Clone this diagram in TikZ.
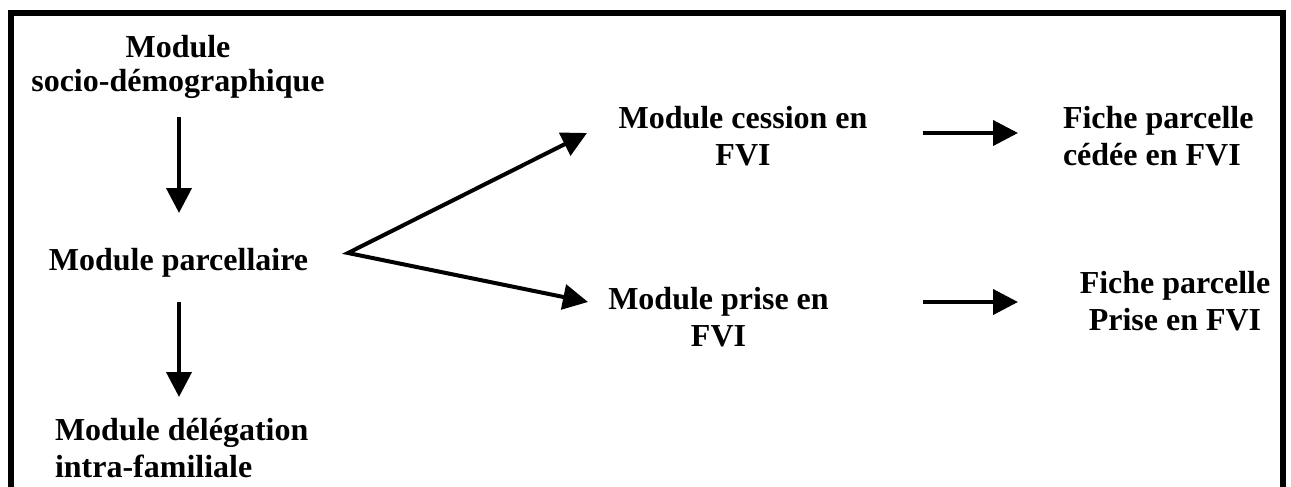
\documentclass[tikz,border=0pt]{standalone}
\usepackage{fontspec}
\setmainfont{Liberation Serif}
\usetikzlibrary{arrows.meta}
\tikzset{
  lbl/.style={inner sep=0pt, outer sep=0pt, font=\bfseries\fontsize{16}{18.5}\selectfont},
  arr/.style={line width=2pt, -{Triangle[length=12.5pt,width=12.5pt]}},
  frame/.style={line width=3pt, line join=miter}
}
\begin{document}
\begin{tikzpicture}[x=0.5pt,y=-0.5pt]
\useasboundingbox (0,0) rectangle (1291,487);
\draw[frame] (11,487) -- (11,13) -- (1283,13) -- (1283,487);

\node[lbl, align=center, anchor=base, font=\bfseries\fontsize{16}{17}\selectfont] (soc) at (178,91) {Module\\socio-démographique};
\node[lbl, anchor=base] (parc) at (178.5,270) {Module parcellaire};
\node[lbl, align=left, anchor=base west] (deleg) at (55,477) {Module délégation\\intra-familiale};
\node[lbl, align=center, anchor=base] (cess) at (743,165) {Module cession en\\FVI};
\node[lbl, align=center, anchor=base] (prise) at (718.5,346) {Module prise en\\FVI};
\node[lbl, align=left, anchor=base west] (fc) at (1063,165) {Fiche parcelle\\cédée en FVI};
\node[lbl, align=center, anchor=base] (fp) at (1175,330) {Fiche parcelle\\Prise en FVI};

\coordinate (a1s) at (179,117);
\coordinate (a1e) at (179,213);
\coordinate (a2s) at (179,302);
\coordinate (a2e) at (179,397);
\coordinate (apex) at (348,253);
\coordinate (t1) at (587,133);
\coordinate (t2) at (588,302);
\coordinate (h1s) at (923,133);
\coordinate (h1e) at (1018,133);
\coordinate (h2s) at (923,302);
\coordinate (h2e) at (1018,302);

\draw[arr] (a1s) -- (a1e);
\draw[arr] (a2s) -- (a2e);
\draw[line width=2pt, line join=miter, {Triangle[length=12.5pt,width=12.5pt]}-{Triangle[length=12.5pt,width=12.5pt]}] (t1) -- (apex) -- (t2);
\draw[arr] (h1s) -- (h1e);
\draw[arr] (h2s) -- (h2e);
\end{tikzpicture}
\end{document}
